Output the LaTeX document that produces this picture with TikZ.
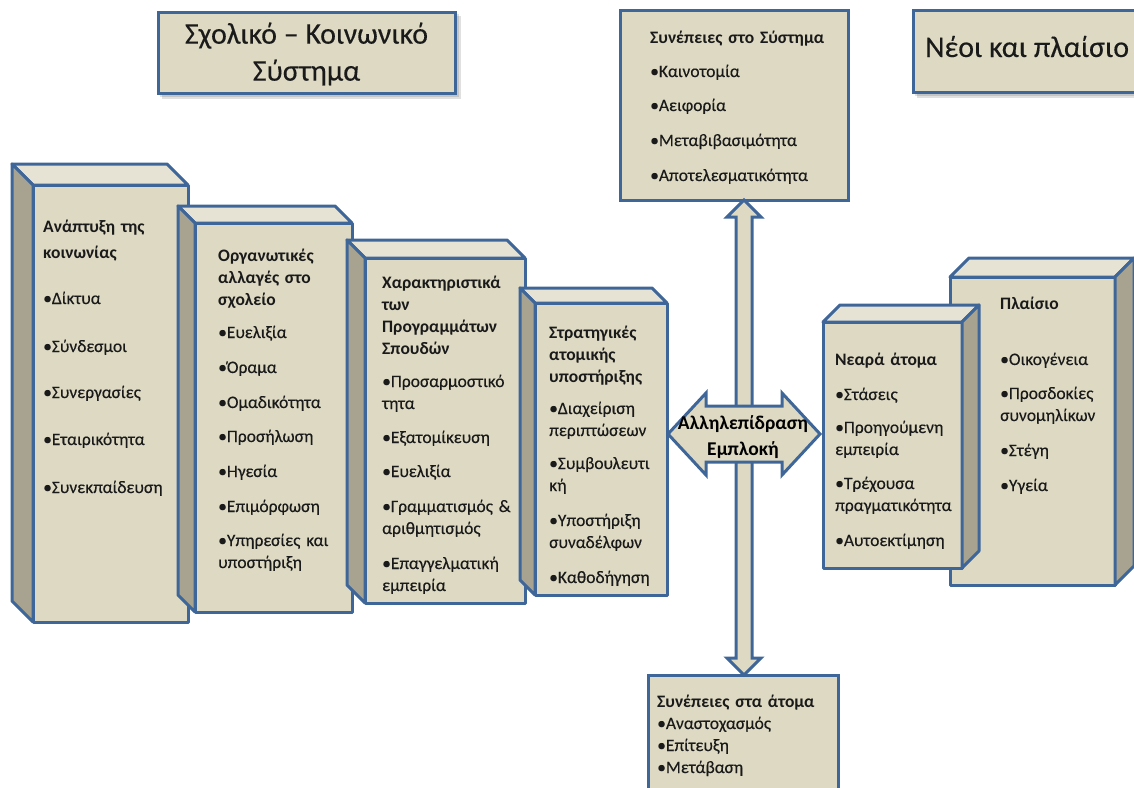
\documentclass[tikz,border=0pt]{standalone}
\usepackage{fontspec}
\setmainfont{Carlito}[UprightFeatures={FakeBold=0.25}]
\usetikzlibrary{calc}
\definecolor{facec}{HTML}{DDD9C3}
\definecolor{topc}{HTML}{E6E3D4}
\definecolor{sidec}{HTML}{A7A390}
\definecolor{edgec}{HTML}{3F6699}
\definecolor{txtc}{HTML}{1A1A1A}
\tikzset{
 face/.style={fill=facec,draw=edgec,line width=3pt,outer sep=0pt,inner sep=0pt,line join=round},
 topface/.style={fill=topc,draw=edgec,line width=3pt,line join=round},
 sideface/.style={fill=sidec,draw=edgec,line width=3pt,line join=round},
 box/.style={fill=facec,draw=edgec,line width=3pt,outer sep=0pt,inner sep=0pt},
 arrowbox/.style={fill=facec,draw=edgec,line width=3pt,line join=miter},
 txt/.style={anchor=base west,inner sep=0pt,align=left,text width=#1,text=txtc,font=\fontsize{17.5}{22}\selectfont},
 txt/.default=200pt,
 shadowc/.style={fill=black,opacity=0.12}
}
% cube with side face on the left: name, x, y (front top-left), w, h, depth
\newcommand\cubeL[6]{%
 \node[face,anchor=north west,minimum width=#4pt,minimum height=#5pt] (#1) at (#2,#3) {};
 \filldraw[topface] (#1.north west) -- ++(-#6,-#6) -- ($(#1.north east)+(-#6,-#6)$) -- (#1.north east) -- cycle;
 \filldraw[sideface] (#1.north west) -- ++(-#6,-#6) -- ($(#1.south west)+(-#6,-#6)$) -- (#1.south west) -- cycle;
}
% cube with side face on the right
\newcommand\cubeR[6]{%
 \node[face,anchor=north west,minimum width=#4pt,minimum height=#5pt] (#1) at (#2,#3) {};
 \filldraw[topface] (#1.north west) -- ++(#6,-#6) -- ($(#1.north east)+(#6,-#6)$) -- (#1.north east) -- cycle;
 \filldraw[sideface] (#1.north east) -- ++(#6,-#6) -- ($(#1.south east)+(#6,-#6)$) -- (#1.south east) -- cycle;
}
% vertical block arrow from #1 to #2, #3 = 1 if it points up, -1 if down
\newcommand\vblock[3]{%
 \filldraw[arrowbox] let \p1=(#1), \p2=(#2), \n1={#3*17} in
  ({\x1-8pt},\y1) -- ({\x1-8pt},{\y2-\n1}) -- ({\x1-17pt},{\y2-\n1}) -- (\x1,\y2)
  -- ({\x1+17pt},{\y2-\n1}) -- ({\x1+8pt},{\y2-\n1}) -- ({\x1+8pt},\y1) -- cycle;
}
\begin{document}
\begin{tikzpicture}[x=1pt,y=-1pt]
\useasboundingbox (0,0) rectangle (1134,787);
\clip (0,0) rectangle (1134,787);
\fill[white] (0,0) rectangle (1134,787);

% title boxes
\fill[shadowc] (162,16) rectangle (461,99);
\fill[shadowc] (160,14) rectangle (459,97);
\node[box,anchor=north west,minimum width=297pt,minimum height=81pt] (title1) at (158,12) {};
\node[inner sep=0pt,align=center,text=txtc,font=\fontsize{30}{37}\selectfont] (title1t) at (306.5,54) {Σχολικό – Κοινωνικό\\Σύστημα};

\fill[shadowc] (917,14) rectangle (1160,98);
\fill[shadowc] (915,12) rectangle (1160,96);
\node[box,anchor=north west,minimum width=240pt,minimum height=82pt] (title2) at (913,10) {};
\node[inner sep=0pt,anchor=base west,text=txtc,font=\fontsize{30}{36}\selectfont] (title2t) at (925,57) {Νέοι και πλαίσιο};

% left cubes
\cubeL{c1}{33}{185}{155}{437}{21}
\cubeL{c2}{195}{223}{157}{389}{17}
\cubeL{c3}{365}{258}{160}{345}{18}
\cubeL{c4}{535}{303}{132}{292}{15}

% right cubes
\cubeR{c6}{950}{277}{165}{308}{19}
\cubeR{c5}{823}{322}{139}{246}{17}

% top and bottom boxes
\node[box,anchor=north west,minimum width=228pt,minimum height=190pt] (sys) at (620,10) {};
\node[box,anchor=north west,minimum width=190pt,minimum height=130pt] (indiv) at (648,675) {};

% arrows
\coordinate (ic) at (744,434);
\vblock{ic}{ic |- sys.south}{1}
\vblock{ic}{ic |- indiv.north}{-1}
\begin{scope}[shift={(ic)}]
\filldraw[arrowbox] (-76,0) -- (-38,-41) -- (-38,-28) -- (38,-28) -- (38,-41) -- (76,0)
  -- (38,41) -- (38,28) -- (-38,28) -- (-38,41) -- cycle;
\end{scope}
\node[inner sep=0pt,align=center,text=black,font=\fontsize{19.5}{26}\selectfont\bfseries] (inter) at (743,437) {Αλληλεπίδραση\\Εμπλοκή};

% texts
\node[txt] (t1) at (43,232) {\textbf{Ανάπτυξη της}\\[4pt]\textbf{κοινωνίας}\\[24pt]•Δίκτυα\\[26pt]•Σύνδεσμοι\\[24pt]•Συνεργασίες\\[25pt]•Εταιρικότητα\\[26pt]•Συνεκπαίδευση};
\node[txt] (t2) at (218,261) {\textbf{Οργανωτικές}\\\textbf{αλλαγές στο}\\\textbf{σχολείο}\\[11pt]•Ευελιξία\\[13pt]•Όραμα\\[13pt]•Ομαδικότητα\\[12pt]•Προσήλωση\\[13pt]•Ηγεσία\\[13pt]•Επιμόρφωση\\[12pt]•Υπηρεσίες και\\υποστήριξη};
\node[txt] (t3) at (382,288) {\textbf{Χαρακτηριστικά}\\\textbf{των}\\\textbf{Προγραμμάτων}\\\textbf{Σπουδών}\\[11pt]•Προσαρμοστικό\\τητα\\[12pt]•Εξατομίκευση\\[12pt]•Ευελιξία\\[13pt]•Γραμματισμός \&\\αριθμητισμός\\[13pt]•Επαγγελματική\\εμπειρία};
\node[txt] (t4) at (549,338) {\textbf{Στρατηγικές}\\\textbf{ατομικής}\\\textbf{υποστήριξης}\\[10pt]•Διαχείριση\\περιπτώσεων\\[11pt]•Συμβουλευτι\\κή\\[13pt]•Υποστήριξη\\συναδέλφων\\[13pt]•Καθοδήγηση};
\node[txt] (t5) at (650,43) {\textbf{Συνέπειες στο Σύστημα}\\[12pt]•Καινοτομία\\[12pt]•Αειφορία\\[13pt]•Μεταβιβασιμότητα\\[13pt]•Αποτελεσματικότητα};
\node[txt] (t6) at (657,707) {\textbf{Συνέπειες στα άτομα}\\•Αναστοχασμός\\•Επίτευξη\\•Μετάβαση};
\node[txt] (t7) at (835,365) {\textbf{Νεαρά άτομα}\\[13pt]•Στάσεις\\[11pt]•Προηγούμενη\\εμπειρία\\[12pt]•Τρέχουσα\\πραγματικότητα\\[13pt]•Αυτοεκτίμηση};
\node[txt] (t8) at (1000,309) {\textbf{Πλαίσιο}\\[34pt]•Οικογένεια\\[12pt]•Προσδοκίες\\συνομηλίκων\\[13pt]•Στέγη\\[13pt]•Υγεία};
\end{tikzpicture}
\end{document}
